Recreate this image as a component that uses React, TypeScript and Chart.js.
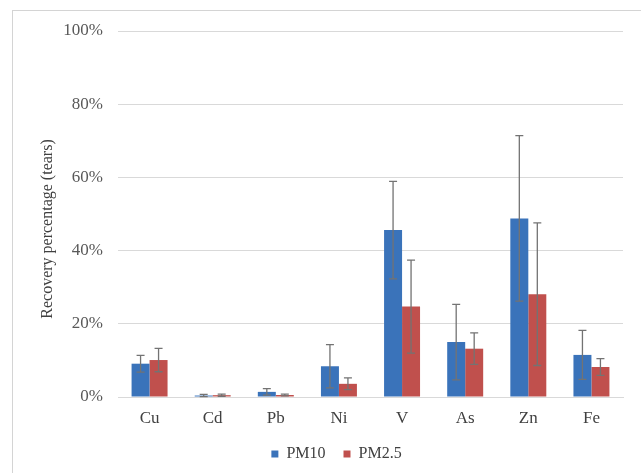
import React, { useEffect, useRef } from "react";
import { Chart, registerables } from "chart.js";

Chart.register(...registerables);

const categories = ["Cu", "Cd", "Pb", "Ni", "V", "As", "Zn", "Fe"];
const pm10Values = [9.1, 0.4, 1.4, 8.4, 45.6, 15.0, 48.8, 11.5];
const pm10Errors = [2.3, 0.3, 0.9, 5.9, 13.3, 10.3, 22.6, 6.7];
const pm25Values = [10.1, 0.5, 0.55, 3.6, 24.7, 13.2, 28.1, 8.2];
const pm25Errors = [3.2, 0.3, 0.25, 1.6, 12.7, 4.3, 19.5, 2.3];
const yTickValues = [0, 20, 40, 60, 80, 100];
const yTitle = "Recovery percentage (tears)";

const SERIF = "'Liberation Serif', 'Times New Roman', serif";

const errorBarPlugin = {
  id: "errorBars",
  afterDatasetsDraw(chart: any) {
    const ctx = chart.ctx;
    const yScale = chart.scales.y;
    ctx.save();
    ctx.strokeStyle = "#737373";
    ctx.lineWidth = 1.3;
    chart.data.datasets.forEach((ds: any, di: number) => {
      const meta = chart.getDatasetMeta(di);
      if (meta.hidden) return;
      meta.data.forEach((bar: any, i: number) => {
        const v = ds.data[i];
        const e = ds.errors[i];
        const yTop = yScale.getPixelForValue(v + e);
        const yBot = yScale.getPixelForValue(Math.max(0, v - e));
        const x = bar.x;
        const cap = 4;
        ctx.beginPath();
        ctx.moveTo(x, yTop);
        ctx.lineTo(x, yBot);
        ctx.moveTo(x - cap, yTop);
        ctx.lineTo(x + cap, yTop);
        ctx.moveTo(x - cap, yBot);
        ctx.lineTo(x + cap, yBot);
        ctx.stroke();
      });
    });
    ctx.restore();
  },
};

const yTitlePlugin = {
  id: "yTitle",
  afterDraw(chart: any) {
    const ctx = chart.ctx;
    ctx.save();
    ctx.translate(48, 229);
    ctx.rotate(-Math.PI / 2);
    ctx.font = `16px ${SERIF}`;
    ctx.fillStyle = "#404040";
    ctx.textAlign = "center";
    ctx.textBaseline = "middle";
    ctx.fillText(yTitle, 0, 0);
    ctx.restore();
  },
};

const legendShiftPlugin = {
  id: "legendShift",
  afterLayout(chart: any) {
    const lg = chart.legend;
    if (!lg) return;
    const dx = 25;
    const dy = -1;
    lg.left += dx;
    lg.right += dx;
    lg.top += dy;
    lg.bottom += dy;
  },
};

export default function App() {
  const canvasRef = useRef<HTMLCanvasElement | null>(null);

  useEffect(() => {
    if (!canvasRef.current) return;
    const chart = new Chart(canvasRef.current, {
      type: "bar",
      data: {
        labels: categories,
        datasets: [
          {
            label: "PM10",
            data: pm10Values,
            errors: pm10Errors,
            backgroundColor: "#3A73BA",
            categoryPercentage: 0.57,
            barPercentage: 1,
          } as any,
          {
            label: "PM2.5",
            data: pm25Values,
            errors: pm25Errors,
            backgroundColor: "#C0504D",
            categoryPercentage: 0.57,
            barPercentage: 1,
          } as any,
        ],
      },
      options: {
        animation: false,
        responsive: false,
        maintainAspectRatio: false,
        layout: { padding: { top: 31, right: 18, left: 0, bottom: 0 } },
        plugins: {
          legend: {
            position: "bottom",
            labels: {
              boxWidth: 7,
              boxHeight: 7,
              padding: 18,
              color: "#404040",
              font: { family: SERIF, size: 16 },
            },
          },
          tooltip: { enabled: false },
        },
        scales: {
          x: {
            grid: { display: false, drawTicks: false },
            border: { display: true, color: "#d9d9d9", width: 1 },
            afterFit(scale: any) {
              scale.height = 32;
            },
            ticks: {
              color: "#404040",
              padding: 11,
              font: { family: SERIF, size: 17 },
            },
          },
          y: {
            min: 0,
            max: 100,
            afterFit(scale: any) {
              scale.width = 118;
            },
            afterBuildTicks(scale: any) {
              scale.ticks = yTickValues.map((v) => ({ value: v }));
            },
            grid: { color: "#d9d9d9", lineWidth: 1, drawTicks: false },
            border: { display: false },
            ticks: {
              padding: 15,
              color: "#595959",
              font: { family: SERIF, size: 17 },
              callback: (v: any) => `${v}%`,
            },
          },
        },
      },
      plugins: [errorBarPlugin, yTitlePlugin, legendShiftPlugin],
    });
    return () => chart.destroy();
  }, []);

  return (
    <div style={{ position: "absolute", left: 0, top: 0, width: 641, height: 473, overflow: "hidden", background: "#fff" }}>
      <div
        style={{
          position: "absolute",
          left: 12,
          top: 10,
          width: 700,
          height: 600,
          borderLeft: "1.5px solid #d4d4d4",
          borderTop: "1.5px solid #d4d4d4",
        }}
      />
      <canvas ref={canvasRef} width={641} height={473} style={{ position: "absolute", left: 0, top: 0 }} />
    </div>
  );
}
